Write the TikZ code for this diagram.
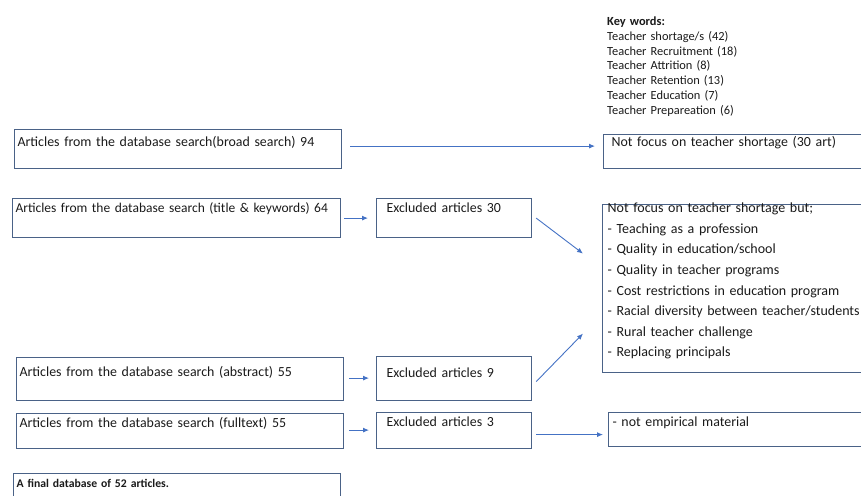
\documentclass[tikz,border=0pt]{standalone}
\usepackage{fontspec}
\setmainfont{Carlito}
\usepackage{xcolor}
\usepackage{tikz}
\usetikzlibrary{arrows.meta,calc}
\definecolor{boxstroke}{HTML}{4A6287}
\definecolor{flowblue}{HTML}{4472C4}
\definecolor{textdark}{HTML}{1A1A1A}

\begin{document}
\begin{tikzpicture}[
  x=1pt,
  y=-1pt,
  every node/.style={
    rectangle,
    anchor=north west,
    align=left,
    text=textdark,
    inner ysep=3pt
  },
  article/.style={
    draw=boxstroke,
    line width=1.2pt,
    inner xsep=3pt,
    text width=321pt,
    text height=11pt,
    text depth=#1,
    font=\fontsize{13.9}{16}\selectfont
  },
  article/.default=22pt,
  exclude/.style={
    draw=boxstroke,
    line width=1.2pt,
    inner xsep=10pt,
    text width=135pt,
    text height=11pt,
    text depth=#1,
    font=\fontsize{13.9}{16}\selectfont
  },
  exclude/.default=22pt,
  outcome/.style={
    draw=boxstroke,
    line width=1.2pt,
    inner xsep=#1,
    text width=265pt,
    text height=11pt,
    text depth=17pt,
    font=\fontsize{13.9}{16}\selectfont
  },
  outcome/.default=8pt,
  reasonlist/.style={
    draw=boxstroke,
    line width=1.2pt,
    inner xsep=5pt,
    inner ysep=0pt,
    text height=8pt,
    text depth=160pt,
    text width=270pt,
    font=\fontsize{14}{20.6}\selectfont
  },
  keylist/.style={
    inner sep=0pt,
    text width=200pt,
    font=\fontsize{12.4}{14.7}\selectfont
  },
  flow/.style={
    -{Latex[length=6pt,width=5pt]},
    draw=flowblue,
    line width=0.9pt
  }
]

\clip (0,0) rectangle (861,495);

% Key words in the top right corner
\node[keylist] (keywords) at (607,17) {\textbf{Key words:}\\
  Teacher shortage/s (42)\\
  Teacher Recruitment (18)\\
  Teacher Attrition (8)\\
  Teacher Retention (13)\\
  Teacher Education (7)\\
  Teacher Prepareation (6)};

% Left column, search stages
\node[article=19pt, text height=14pt] (broad)    at (14,129) {Articles from the database search(broad search) 94};
\node[article, text width=322pt, font=\fontsize{13.5}{16}\selectfont] (titlekw) at (12,198) {Articles from the database search (title \& keywords) 64};
\node[article=21pt, text height=16pt] (abstract) at (16,357) {Articles from the database search (abstract) 55};
\node[article=18pt]                   (fulltext) at (16,413) {Articles from the database search (fulltext) 55};
\node[article, font=\bfseries\fontsize{11.7}{15}\selectfont] (final) at (13,473) {A final database of 52 articles.};

% Middle column, exclusions
\node[exclude]                        (excltitle)    at (376,198) {Excluded articles 30};
\node[exclude=20pt, text height=18pt] (exclabstract) at (376,356) {Excluded articles 9};
\node[exclude=19pt]                   (exclfull)     at (376,412) {Excluded articles 3};

% Right column, reasons
\node[outcome, text height=9pt, text depth=19pt] (notfocus) at (603,134) {Not focus on teacher shortage (30 art)};
\node[reasonlist] (reasons) at (602,204) {Not focus on teacher shortage but;\\
  - Teaching as a profession\\
  - Quality in education/school\\
  - Quality in teacher programs\\
  - Cost restrictions in education program\\
  - Racial diversity between teacher/students\\
  - Rural teacher challenge\\
  - Replacing principals};
\node[outcome=4pt] (empirical) at (608,412) {- not empirical material};

% Flow between the stages
\draw[flow] ($(broad.east)+(8,-3)$) -- ($(broad.east -| notfocus.west)+(-8,-3)$);
\draw[flow] ($(titlekw.east)+(3,0)$) -- ($(titlekw.east -| excltitle.west)+(-8,0)$);
\draw[flow] ($(abstract.east)+(5,-1)$) -- ($(abstract.east -| exclabstract.west)+(-7,-1)$);
\draw[flow] ($(fulltext.east)+(5,-1)$) -- ($(fulltext.east -| exclfull.west)+(-7,-1)$);

\draw[flow] ($(excltitle.east)+(4,0)$) -- ($(reasons.west)+(-19,-35)$);
\draw[flow] ($(exclabstract.east)+(4,3)$) -- ($(reasons.west)+(-19,45)$);
\draw[flow] ($(exclfull.east)+(4,4)$) -- ($(exclfull.east -| empirical.west)+(-5,4)$);

\end{tikzpicture}
\end{document}
